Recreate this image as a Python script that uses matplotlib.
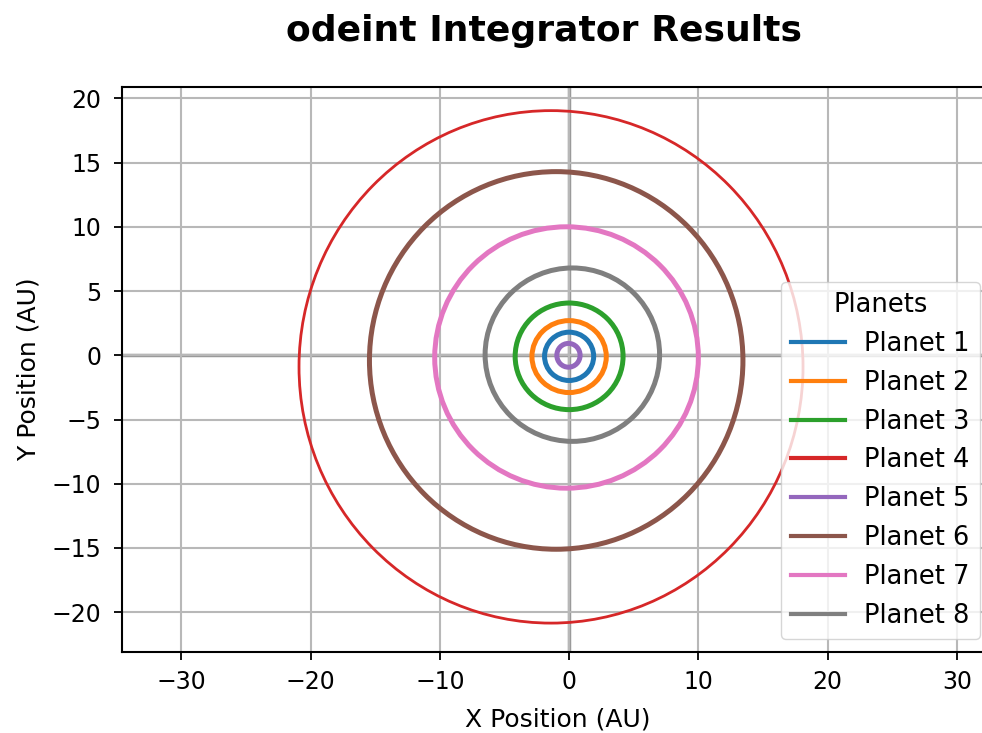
import matplotlib
matplotlib.use("Agg")
import matplotlib.pyplot as plt
from matplotlib.patches import Ellipse

planets = ["Planet 1", "Planet 2", "Planet 3", "Planet 4",
           "Planet 5", "Planet 6", "Planet 7", "Planet 8"]
colors = ["#1f77b4", "#ff7f0e", "#2ca02c", "#d62728",
          "#9467bd", "#8c564b", "#e377c2", "#7f7f7f"]
# orbit centre (AU) and full extents (AU)
center_x = [0.0, 0.0, 0.0, -1.4, -0.05, -1.0, -0.2, 0.25]
center_y = [-0.08, -0.1, -0.08, -0.9, 0.0, -0.4, -0.17, 0.05]
width_x = [3.8, 5.75, 8.35, 39.0, 1.8, 28.9, 20.4, 13.5]
height_y = [3.76, 5.6, 8.3, 39.9, 1.85, 29.4, 20.35, 13.5]
line_w = [3.6, 3.6, 3.6, 2.0, 3.6, 3.6, 3.6, 3.6]

xlim = (-34.6, 32.8)
ylim = (-23.1, 20.9)
xticks = [-30, -20, -10, 0, 10, 20, 30]
yticks = [-20, -15, -10, -5, 0, 5, 10, 15, 20]

fig = plt.figure(figsize=(9.82, 7.33), dpi=100)
ax = fig.add_axes([0.1242, 0.1105, 0.887, 0.771])

ax.grid(True, color="#b8b8b8", linewidth=1.5, zorder=0)
ax.axhline(0, color="#999999", linewidth=2.5, zorder=1)
ax.axvline(0, color="#999999", linewidth=2.5, zorder=1)

for name, c, cx, cy, w, h, lw in zip(planets, colors, center_x, center_y,
                                     width_x, height_y, line_w):
    e = Ellipse((cx, cy), w, h, fill=False, edgecolor=c, linewidth=lw, zorder=3)
    ax.add_patch(e)
    ax.plot([], [], color=c, linewidth=3, label=name)

ax.set_xlim(*xlim)
ax.set_ylim(*ylim)
ax.set_xticks(xticks)
ax.set_yticks(yticks)
ax.tick_params(labelsize=17, length=6, width=1.3)
ax.tick_params(axis="y", pad=9)
ax.tick_params(axis="x", pad=7)
for s in ax.spines.values():
    s.set_linewidth(1.5)

ax.set_xlabel("X Position (AU)", fontsize=18, labelpad=10)
ax.set_ylabel("Y Position (AU)", fontsize=18, labelpad=8)
fig.text(0.554, 0.958, "odeint Integrator Results", fontsize=26,
         fontweight="bold", ha="center", va="center")

leg = ax.legend(title="Planets", loc="lower right", fontsize=18.5, title_fontsize=18.5,
                handlelength=2.1, handletextpad=0.75, labelspacing=0.5,
                borderpad=0.4, borderaxespad=0.5)

fig.savefig("out.png", dpi=100)
